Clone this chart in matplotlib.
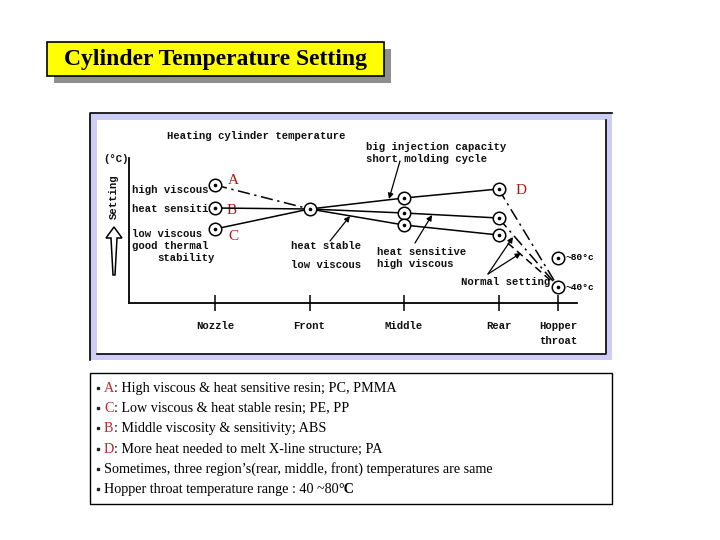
import matplotlib
matplotlib.use("Agg")
import matplotlib.pyplot as plt
from matplotlib.patches import Rectangle, Polygon

# ---------------- data (relative setting heights) -------------
zones = ["Nozzle", "Front", "Middle", "Rear", "Hopper\nthroat"]
zone_pos = [1, 2, 3, 4, 4.63]

nozzle_levels = [118, 95, 74]          # A, B, C at the nozzle
front_level = 94
upper_profile = [94, 105, 114]         # front, middle, rear (D)
mid_profile = [94, 90, 85]
lower_profile = [94, 78, 68]
hopper_levels = [45, 16]               # ~80 C, ~40 C

notes = [
    ("A", ": High viscous & heat sensitive resin; PC, PMMA"),
    ("C", ": Low viscous & heat stable resin; PE, PP"),
    ("B", ": Middle viscosity & sensitivity; ABS"),
    ("D", ": More heat needed to melt X-line structure; PA"),
    ("", "Sometimes, three region\u2019s(rear, middle, front) temperatures are same"),
    ("", "Hopper throat temperature range : 40 ~80"),
]

# ---------------- figure ----------------
fig = plt.figure(figsize=(7.2, 5.4), dpi=100)
bg = fig.add_axes([0, 0, 1, 1])
bg.set_xlim(0, 720)
bg.set_ylim(540, 0)
bg.axis("off")

# title box
bg.add_patch(Rectangle((54, 49), 337, 34, fc="#8f8f8f", ec="none"))
bg.add_patch(Rectangle((47, 42), 337, 34, fc="#ffff00", ec="black", lw=1.2))
bg.text(216, 60, "Cylinder Temperature Setting", ha="center", va="center",
        family="Liberation Serif", weight="bold", fontsize=17)

# chart panel
lav = "#cdcdf5"
bg.add_patch(Rectangle((90, 113), 522, 247, fc=lav, ec="none"))
bg.plot([90, 90, 612], [360, 113, 113], color="black", lw=1.2)
bg.add_patch(Rectangle((97, 120), 509, 234, fc="white", ec="none"))
bg.plot([97, 606, 606], [354, 354, 120], color="black", lw=1.2)

# notes box
bg.add_patch(Rectangle((90, 373), 522, 131, fc="white", ec="black", lw=1))

mono = dict(family="Liberation Mono", weight="bold", fontsize=7.7, color="#111111")

# ---------------- chart axes ----------------
ax = fig.add_axes([129 / 720, 1 - 303 / 540, (577 - 129) / 720, (303 - 158) / 540])
ax.patch.set_alpha(0)
ax.set_xlim(0.09, 4.83)
ax.set_ylim(0, 145)
for s in ("top", "right"):
    ax.spines[s].set_visible(False)
for s in ("left", "bottom"):
    ax.spines[s].set_linewidth(1.3)
ax.set_yticks([])
ax.set_xticks(zone_pos)
ax.set_xticklabels(zones, **mono)
ax.tick_params(axis="x", direction="inout", length=12, width=1.1, pad=7)
for t in ax.get_xticklabels():
    t.set_linespacing(1.6)

lw = 1.1
dashdot = (0, (8, 3, 1.5, 3))
x_n, x_f, x_m, x_r, x_h = zone_pos
# nozzle -> front
ax.plot([x_n, x_f], [nozzle_levels[0], front_level], color="black", lw=lw, ls=dashdot)
ax.plot([x_n, x_f], [nozzle_levels[1], front_level], color="black", lw=lw)
ax.plot([x_n, x_f], [nozzle_levels[2], front_level], color="black", lw=lw)
# front -> middle -> rear
for prof in (upper_profile, mid_profile, lower_profile):
    ax.plot([x_f, x_m, x_r], prof, color="black", lw=lw)
# rear -> hopper throat
ax.plot([x_r, x_h], [upper_profile[2], hopper_levels[1]], color="black", lw=lw, ls=dashdot)
ax.plot([x_r, x_h], [mid_profile[2], hopper_levels[1]], color="black", lw=lw, ls=dashdot)
ax.plot([x_r, x_h], [lower_profile[2], hopper_levels[1]], color="black", lw=lw, ls=(0, (5, 3)))

# markers
px = [x_n] * 3 + [x_f] + [x_m] * 3 + [x_r] * 3 + [x_h] * 2
py = (nozzle_levels + [front_level]
      + [upper_profile[1], mid_profile[1], lower_profile[1]]
      + [upper_profile[2], mid_profile[2], lower_profile[2]]
      + hopper_levels)
ax.plot(px, py, "o", ms=9, mfc="white", mec="black", mew=1.1, zorder=4, clip_on=False)
ax.plot(px, py, "o", ms=1.6, color="black", zorder=5, clip_on=False)

# ---------------- chart annotations ----------------
bg.text(167, 136, "Heating cylinder temperature", ha="left", va="center", **mono)
bg.text(366, 147, "big injection capacity", ha="left", va="center", **mono)
bg.text(366, 159, "short molding cycle", ha="left", va="center", **mono)
bg.text(103, 159, "(\u00b0C)", ha="left", va="center", **mono)
bg.text(114, 197, "Setting", ha="center", va="center", rotation=90, **mono)
bg.text(132, 190, "high viscous", ha="left", va="center", **mono)
bg.text(132, 209, "heat sensitive", ha="left", va="center", zorder=1, **mono)
bg.text(132, 234, "low viscous", ha="left", va="center", **mono)
bg.text(132, 246, "good thermal", ha="left", va="center", **mono)
bg.text(157, 258, "stability", ha="left", va="center", **mono)
bg.text(291, 246, "heat stable", ha="left", va="center", **mono)
bg.text(291, 265, "low viscous", ha="left", va="center", **mono)
bg.text(377, 252, "heat sensitive", ha="left", va="center", **mono)
bg.text(377, 264, "high viscous", ha="left", va="center", **mono)
bg.text(461, 282, "Normal setting", ha="left", va="center", **mono)
bg.text(565, 258, "~80\u00b0c", ha="left", va="center", family="Liberation Mono",
        weight="bold", fontsize=6.8)
bg.text(566, 287, "~40\u00b0c", ha="left", va="center", family="Liberation Mono",
        weight="bold", fontsize=6.8)

red = "#b41414"
for lab, (lx, ly) in zip("ABCD", [(233, 181), (232, 210), (233, 236), (521, 191)]):
    bg.text(lx, ly, lab, ha="center", va="center", family="Liberation Serif",
            fontsize=11, color=red)

# hollow arrow next to "Setting"
bg.add_patch(Polygon([(114, 227), (122, 238), (117, 238), (115, 275), (113, 275),
                      (111, 238), (106, 238)], closed=True, fc="white",
                     ec="black", lw=1.1))

arrow_kw = dict(arrowstyle="-|>", color="black", lw=0.9, mutation_scale=8,
                shrinkA=0, shrinkB=0)
for (x0, y0), (x1, y1) in [((400, 161), (389, 199)), ((415, 243), (432, 215)),
                           ((330, 241), (350, 216)), ((488, 274), (513, 237)),
                           ((488, 274), (521, 253))]:
    bg.annotate("", xy=(x1, y1), xytext=(x0, y0), arrowprops=arrow_kw)

# ---------------- notes ----------------
serif = dict(family="Liberation Serif", fontsize=10.2)
for i, (letter, rest) in enumerate(notes):
    y = 388.5 + i * 20.2
    bg.plot([98], [y - 0.5], "s", ms=1.8, color="#222222")
    if letter:
        t = bg.text(104, y, letter, ha="left", va="center", color="#c02828", **serif)
        bg.annotate(rest, xy=(1, 0), xycoords=t, va="bottom", ha="left",
                    color="black", **serif)
    else:
        t = bg.text(104, y, rest, ha="left", va="center", color="black", **serif)
        if i == len(notes) - 1:
            bg.annotate("\u00b0C", xy=(1, 0), xycoords=t, va="bottom", ha="left",
                        color="black", weight="bold", **serif)

fig.savefig("out.png", dpi=100)
